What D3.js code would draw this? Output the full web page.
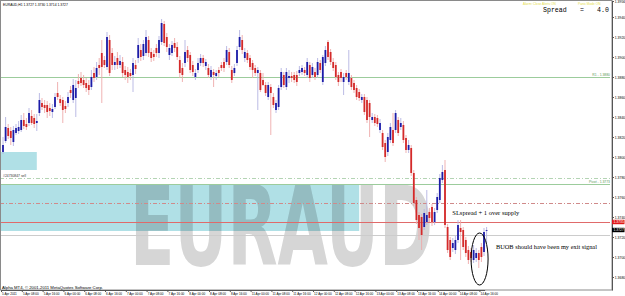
<!DOCTYPE html>
<html>
<head>
<meta charset="utf-8">
<script src="https://cdn.jsdelivr.net/npm/d3@7"></script>
<style>
  html, body { margin: 0; padding: 0; background: #fff; }
  svg { display: block; }
</style>
</head>
<body>
<div id="chart"></div>
<script>
// EURAUD H1 candles (one row = 10 bars)
var openP = [
  1.3805,1.3816,1.3829,1.3826,1.3815,1.3824,1.3826,1.3827,1.3837,1.3833,
  1.3834,1.3841,1.3839,1.3834,1.3844,1.3854,1.3852,1.3852,1.3849,1.3845,
  1.3850,1.3864,1.3858,1.3857,1.3851,1.3854,1.3867,1.3857,1.3859,1.3876,
  1.3879,1.3877,1.3874,1.3872,1.3870,1.3884,1.3880,1.3892,1.3904,1.3897,
  1.3890,1.3917,1.3904,1.3892,1.3899,1.3892,1.3895,1.3887,1.3885,1.3884,
  1.3882,1.3892,1.3899,1.3907,1.3901,1.3904,1.3917,1.3905,1.3903,1.3909,
  1.3904,1.3915,1.3933,1.3920,1.3902,1.3904,1.3914,1.3910,1.3897,1.3889,
  1.3894,1.3907,1.3902,1.3892,1.3880,1.3887,1.3894,1.3899,1.3891,1.3889,
  1.3880,1.3885,1.3881,1.3887,1.3892,1.3895,1.3895,1.3905,1.3887,1.3884,
  1.3894,1.3910,1.3917,1.3899,1.3904,1.3899,1.3894,1.3889,1.3884,1.3884,
  1.3877,1.3872,1.3860,1.3870,1.3860,1.3847,1.3850,1.3870,1.3882,1.3870,
  1.3879,1.3881,1.3882,1.3882,1.3884,1.3885,1.3887,1.3882,1.3892,1.3882,
  1.3885,1.3882,1.3894,1.3875,1.3894,1.3915,1.3905,1.3895,1.3892,1.3882,
  1.3885,1.3875,1.3884,1.3875,1.3879,1.3874,1.3869,1.3865,1.3857,1.3860,
  1.3857,1.3854,1.3837,1.3840,1.3839,1.3827,1.3824,1.3814,1.3805,1.3817,
  1.3827,1.3827,1.3837,1.3830,1.3832,1.3819,1.3807,1.3809,1.3784,1.3757,
  1.3742,1.3740,1.3730,1.3735,1.3745,1.3750,1.3735,1.3747,1.3757,1.3777,
  1.3787,1.3730,1.3717,1.3709,1.3707,1.3717,1.3729,1.3727,1.3717,1.3707,
  1.3705,1.3697,1.3699,1.3704,1.3710,1.3705,1.3727
];
var highP = [
  1.3820,1.3840,1.3833,1.3830,1.3831,1.3833,1.3836,1.3842,1.3844,1.3839,
  1.3849,1.3847,1.3843,1.3843,1.3864,1.3859,1.3857,1.3856,1.3854,1.3853,
  1.3864,1.3875,1.3862,1.3860,1.3856,1.3865,1.3871,1.3878,1.3877,1.3883,
  1.3885,1.3882,1.3879,1.3877,1.3887,1.3890,1.3895,1.3899,1.3917,1.3901,
  1.3925,1.3922,1.3909,1.3901,1.3905,1.3902,1.3900,1.3891,1.3890,1.3888,
  1.3899,1.3897,1.3919,1.3913,1.3917,1.3927,1.3921,1.3909,1.3907,1.3913,
  1.3921,1.3938,1.3936,1.3924,1.3913,1.3916,1.3919,1.3915,1.3901,1.3894,
  1.3917,1.3911,1.3905,1.3896,1.3888,1.3899,1.3903,1.3902,1.3898,1.3893,
  1.3891,1.3888,1.3887,1.3890,1.3895,1.3899,1.3911,1.3909,1.3891,1.3893,
  1.3911,1.3927,1.3922,1.3909,1.3907,1.3902,1.3897,1.3892,1.3890,1.3887,
  1.3884,1.3875,1.3875,1.3873,1.3864,1.3857,1.3872,1.3889,1.3885,1.3889,
  1.3887,1.3885,1.3885,1.3886,1.3891,1.3892,1.3890,1.3899,1.3895,1.3894,
  1.3889,1.3899,1.3897,1.3902,1.3911,1.3917,1.3908,1.3899,1.3895,1.3885,
  1.3888,1.3884,1.3887,1.3907,1.3882,1.3877,1.3872,1.3868,1.3863,1.3863,
  1.3860,1.3857,1.3844,1.3843,1.3842,1.3838,1.3827,1.3817,1.3824,1.3834,
  1.3844,1.3847,1.3840,1.3839,1.3836,1.3822,1.3817,1.3812,1.3787,1.3760,
  1.3745,1.3743,1.3748,1.3767,1.3749,1.3753,1.3749,1.3764,1.3783,1.3792,
  1.3797,1.3733,1.3720,1.3719,1.3721,1.3737,1.3737,1.3730,1.3720,1.3711,
  1.3709,1.3712,1.3709,1.3707,1.3714,1.3729,1.3730
];
var lowP = [
  1.3803,1.3814,1.3818,1.3812,1.3811,1.3822,1.3823,1.3825,1.3828,1.3827,
  1.3831,1.3832,1.3829,1.3826,1.3841,1.3847,1.3844,1.3839,1.3841,1.3839,
  1.3848,1.3857,1.3851,1.3834,1.3844,1.3850,1.3859,1.3854,1.3840,1.3869,
  1.3871,1.3869,1.3865,1.3862,1.3867,1.3875,1.3877,1.3882,1.3854,1.3889,
  1.3887,1.3881,1.3887,1.3887,1.3888,1.3889,1.3880,1.3877,1.3874,1.3877,
  1.3865,1.3883,1.3894,1.3896,1.3897,1.3901,1.3900,1.3895,1.3896,1.3900,
  1.3899,1.3912,1.3911,1.3905,1.3897,1.3901,1.3905,1.3897,1.3879,1.3875,
  1.3890,1.3895,1.3884,1.3881,1.3877,1.3884,1.3891,1.3890,1.3887,1.3879,
  1.3877,1.3870,1.3877,1.3880,1.3886,1.3885,1.3892,1.3889,1.3874,1.3881,
  1.3891,1.3907,1.3903,1.3895,1.3894,1.3887,1.3879,1.3881,1.3847,1.3865,
  1.3871,1.3861,1.3857,1.3822,1.3849,1.3844,1.3847,1.3867,1.3869,1.3867,
  1.3874,1.3875,1.3874,1.3871,1.3881,1.3882,1.3881,1.3879,1.3875,1.3879,
  1.3877,1.3879,1.3884,1.3872,1.3891,1.3897,1.3892,1.3886,1.3877,1.3871,
  1.3875,1.3862,1.3877,1.3872,1.3867,1.3864,1.3857,1.3856,1.3854,1.3842,
  1.3834,1.3820,1.3834,1.3831,1.3830,1.3824,1.3807,1.3795,1.3801,1.3814,
  1.3811,1.3824,1.3821,1.3827,1.3814,1.3804,1.3804,1.3781,1.3751,1.3733,
  1.3717,1.3707,1.3727,1.3732,1.3735,1.3731,1.3732,1.3744,1.3754,1.3774,
  1.3729,1.3704,1.3697,1.3705,1.3703,1.3714,1.3697,1.3707,1.3700,1.3693,
  1.3695,1.3694,1.3695,1.3689,1.3695,1.3701,1.3714
];
var closeP = [
  1.3812,1.3830,1.3821,1.3819,1.3827,1.3829,1.3830,1.3837,1.3831,1.3830,
  1.3844,1.3834,1.3833,1.3836,1.3857,1.3850,1.3849,1.3845,1.3846,1.3848,
  1.3860,1.3860,1.3854,1.3847,1.3848,1.3860,1.3864,1.3872,1.3869,1.3873,
  1.3874,1.3872,1.3869,1.3867,1.3880,1.3879,1.3889,1.3889,1.3890,1.3892,
  1.3920,1.3884,1.3892,1.3895,1.3892,1.3896,1.3884,1.3882,1.3880,1.3881,
  1.3894,1.3888,1.3912,1.3900,1.3913,1.3920,1.3904,1.3899,1.3900,1.3904,
  1.3917,1.3934,1.3914,1.3910,1.3909,1.3912,1.3909,1.3900,1.3884,1.3882,
  1.3905,1.3899,1.3887,1.3885,1.3884,1.3894,1.3899,1.3894,1.3895,1.3882,
  1.3887,1.3882,1.3884,1.3884,1.3889,1.3889,1.3907,1.3892,1.3877,1.3889,
  1.3907,1.3920,1.3907,1.3905,1.3897,1.3890,1.3887,1.3884,1.3887,1.3867,
  1.3872,1.3864,1.3872,1.3864,1.3852,1.3854,1.3869,1.3885,1.3872,1.3885,
  1.3881,1.3879,1.3877,1.3875,1.3887,1.3889,1.3884,1.3895,1.3879,1.3890,
  1.3880,1.3895,1.3887,1.3900,1.3907,1.3900,1.3895,1.3889,1.3880,1.3875,
  1.3879,1.3880,1.3880,1.3884,1.3870,1.3867,1.3860,1.3859,1.3860,1.3845,
  1.3837,1.3840,1.3840,1.3834,1.3833,1.3834,1.3810,1.3800,1.3820,1.3830,
  1.3814,1.3844,1.3824,1.3834,1.3817,1.3807,1.3812,1.3784,1.3754,1.3737,
  1.3729,1.3722,1.3744,1.3742,1.3739,1.3735,1.3745,1.3760,1.3779,1.3785,
  1.3732,1.3707,1.3700,1.3714,1.3717,1.3732,1.3725,1.3710,1.3704,1.3697,
  1.3699,1.3707,1.3704,1.3697,1.3700,1.3725,1.3727
];

// time axis labels, one every 8 bars
var timeLabels = [
  "5 Apr 2011", "5 Apr 08:00", "5 Apr 16:00", "6 Apr 00:00", "6 Apr 08:00", "6 Apr 16:00",
  "7 Apr 00:00", "7 Apr 08:00", "7 Apr 16:00", "8 Apr 00:00", "8 Apr 08:00", "8 Apr 16:00",
  "11 Apr 00:00", "11 Apr 08:00", "11 Apr 16:00", "12 Apr 00:00", "12 Apr 08:00", "12 Apr 16:00",
  "13 Apr 00:00", "13 Apr 08:00", "13 Apr 16:00", "14 Apr 00:00", "14 Apr 08:00", "14 Apr 16:00"
];
var labelEvery = 8;
var priceTicks = [1.3956, 1.3940, 1.3920, 1.3900, 1.3880, 1.3860, 1.3840, 1.3820,
                  1.3800, 1.3780, 1.3760, 1.3740, 1.3720, 1.3700, 1.3680];

// objects drawn on the chart
var pivotNames = ["R1", "Pivot"];
var pivotPrices = [1.3880, 1.3773];
var orderLabel = "#24730847 sell";
var orderPrice = 1.3779;
var supplyLinePrice = 1.3754;
var slPrice = 1.3735;
var bidPrice = 1.3727;
var greyLinePrice = 1.3722;
var zoneTops = [1.3805, 1.3773];
var zoneBottoms = [1.3787, 1.3726];
var zoneEndBars = [13, 137];
var spreadValue = 4.0;
var noteTexts = ["SLspread + 1 over supply", "BUOB should have been my exit signal"];
var noteBars = [172.8, 189.6];
var notePrices = [1.3742, 1.3708];
var circleBar = 183.3, circlePrice = 1.3698;

var W = 625, H = 296;
var plotRight = 612, plotBottom = 290;

var svg = d3.select("#chart").append("svg")
  .attr("width", W)
  .attr("height", H)
  .style("font-family", "'Liberation Sans', Arial, sans-serif");

svg.append("rect").attr("width", W).attr("height", H).attr("fill", "#fff");

svg.append("clipPath").attr("id", "plotClip")
  .append("rect").attr("x", 0).attr("y", 0).attr("width", plotRight).attr("height", plotBottom);

var x = d3.scaleLinear().domain([0, openP.length - 1]).range([3, 486.6]);
var y = d3.scaleLinear().domain([1.3667, 1.3956]).range([plotBottom, 1]);

var bars = openP.map(function(o, i) {
  return {i: i, o: o, h: highP[i], l: lowP[i], c: closeP[i]};
});

var g = svg.append("g").attr("clip-path", "url(#plotClip)");

// supply zones
g.selectAll("rect.zone")
  .data(zoneTops)
  .enter().append("rect")
  .attr("class", "zone")
  .attr("x", 0)
  .attr("y", function(d) { return y(d); })
  .attr("width", function(d, i) { return x(zoneEndBars[i]); })
  .attr("height", function(d, i) { return y(zoneBottoms[i]) - y(d); })
  .attr("fill", "#b0e0e6");

// big symbol watermark, squeezed with a transform so its box matches what is drawn
var mark = g.append("text")
  .attr("x", 0)
  .attr("y", 0)
  .attr("font-family", "'DejaVu Sans', sans-serif")
  .attr("font-weight", "bold")
  .attr("font-size", 111)
  .attr("fill", "#d6d6d6")
  .style("mix-blend-mode", "multiply")
  .text("EURAUD");
var markW = mark.node().getComputedTextLength() || 520;
mark.attr("transform", "translate(130,265) scale(" + (303 / markW) + ",1)");

// horizontal lines
function hline(price, color, dash, width) {
  g.append("line")
    .attr("x1", 0).attr("x2", plotRight - 2)
    .attr("y1", Math.round(y(price)) + 0.5).attr("y2", Math.round(y(price)) + 0.5)
    .attr("stroke", color)
    .attr("stroke-width", width || 1)
    .attr("stroke-dasharray", dash || null);
}
pivotPrices.forEach(function(p) { hline(p, "#9ccc9c"); });
hline(orderPrice, "#b4d4b4", "4,2,1,2");
hline(supplyLinePrice, "#d08a8a", "4,2,1,2");
hline(slPrice, "#e06a6a");
hline(greyLinePrice, "#cccccc");

pivotNames.forEach(function(n, i) {
  svg.append("text")
    .attr("x", plotRight - 2)
    .attr("y", y(pivotPrices[i]) - 1.2)
    .attr("text-anchor", "end")
    .attr("font-size", 3.4)
    .attr("fill", "#5a9a5a")
    .text(n + " - " + d3.format(".4f")(pivotPrices[i]));
});

svg.append("text")
  .attr("x", 3)
  .attr("y", y(orderPrice) - 1.5)
  .attr("font-size", 3.4)
  .attr("fill", "#333")
  .text(orderLabel);

// candles
g.selectAll("line.wick")
  .data(bars)
  .enter().append("line")
  .attr("class", "wick")
  .attr("x1", function(d) { return x(d.i); })
  .attr("x2", function(d) { return x(d.i); })
  .attr("y1", function(d) { return y(d.h); })
  .attr("y2", function(d) { return y(d.l); })
  .attr("stroke", function(d) { return d.c >= d.o ? "#b4b4e2" : "#eeaaaa"; })
  .attr("stroke-width", 0.9);

g.selectAll("rect.body")
  .data(bars)
  .enter().append("rect")
  .attr("class", "body")
  .attr("x", function(d) { return x(d.i) - 0.9; })
  .attr("width", 1.8)
  .attr("y", function(d) { return y(Math.max(d.o, d.c)); })
  .attr("height", function(d) { return Math.max(0.8, Math.abs(y(d.o) - y(d.c))); })
  .attr("fill", function(d) { return d.c >= d.o ? "#1c1ca8" : "#d42a2a"; });

// notes
noteTexts.forEach(function(t, i) {
  svg.append("text")
    .attr("x", x(noteBars[i]))
    .attr("y", y(notePrices[i]))
    .attr("font-family", "'Liberation Serif', 'Times New Roman', serif")
    .attr("font-size", 6.6)
    .attr("textLength", i === 0 ? 67 : 101)
    .attr("lengthAdjust", "spacingAndGlyphs")
    .attr("fill", "#000")
    .text(t);
});

svg.append("ellipse")
  .attr("cx", x(circleBar))
  .attr("cy", y(circlePrice))
  .attr("rx", 8.5)
  .attr("ry", 26)
  .attr("fill", "none")
  .attr("stroke", "#000")
  .attr("stroke-width", 1);

// frame
svg.append("rect")
  .attr("x", 0.5).attr("y", 0.5)
  .attr("width", plotRight - 0.5).attr("height", plotBottom - 0.5)
  .attr("fill", "none")
  .attr("stroke", "#8a8a8a")
  .attr("stroke-width", 1);

// price axis
var yAxis = d3.axisRight(y)
  .tickValues(priceTicks)
  .tickSize(2)
  .tickSizeOuter(0)
  .tickPadding(0.8)
  .tickFormat(d3.format(".4f"));

var ya = svg.append("g")
  .attr("transform", "translate(" + plotRight + ",0)")
  .call(yAxis);
ya.select(".domain").attr("stroke", "#555");
ya.selectAll(".tick line").attr("stroke", "#555");
ya.selectAll("text").attr("font-size", 3.4).attr("fill", "#000").attr("font-family", null);

// time axis
var xAxis = d3.axisBottom(x)
  .tickValues(timeLabels.map(function(t, i) { return i * labelEvery; }))
  .tickSize(2)
  .tickSizeOuter(0)
  .tickPadding(0.5)
  .tickFormat(function(d, i) { return timeLabels[i]; });

var xa = svg.append("g")
  .attr("transform", "translate(-2," + plotBottom + ")")
  .call(xAxis);
xa.select(".domain").attr("stroke", "#555");
xa.selectAll(".tick line").attr("stroke", "#555");
xa.selectAll("text")
  .attr("text-anchor", "start")
  .attr("x", 0.6)
  .attr("font-size", 3.1)
  .attr("fill", "#000")
  .attr("font-family", null);

// price tags on the axis
[{p: slPrice, fill: "#e01818"}, {p: bidPrice, fill: "#000"}].forEach(function(t) {
  svg.append("rect")
    .attr("x", plotRight).attr("y", y(t.p) - 2.2)
    .attr("width", 12.5).attr("height", 4.4)
    .attr("fill", t.fill);
  svg.append("text")
    .attr("x", plotRight + 1.5).attr("y", y(t.p))
    .attr("dy", "0.35em")
    .attr("font-size", 3.4)
    .attr("fill", "#fff")
    .text(d3.format(".4f")(t.p));
});

// header texts
var last = bars[bars.length - 1];
svg.append("text")
  .attr("x", 3).attr("y", 6)
  .attr("font-size", 3.4)
  .attr("fill", "#000")
  .text("EURAUD,H1  " + [last.o, last.h, last.l, last.c].map(d3.format(".4f")).join(" "));

svg.append("text")
  .attr("x", 523).attr("y", 5)
  .attr("font-size", 3.2)
  .attr("fill", "#e6e04a")
  .text("Alarm: Close Alerts ON");
svg.append("text")
  .attr("x", 578).attr("y", 5)
  .attr("font-size", 3.2)
  .attr("fill", "#e6e04a")
  .text("Panic Mode ON");

var mono = "'Liberation Mono', 'DejaVu Sans Mono', monospace";
svg.append("text").attr("x", 543).attr("y", 11.5).attr("font-family", mono)
  .attr("font-size", 6.6).attr("fill", "#000").text("Spread");
svg.append("text").attr("x", 580).attr("y", 11.5).attr("font-family", mono)
  .attr("font-size", 6.6).attr("fill", "#000").text("=");
svg.append("text").attr("x", 597).attr("y", 11.5).attr("font-family", mono)
  .attr("font-size", 6.6).attr("fill", "#000").text(d3.format(".1f")(spreadValue));

svg.append("text")
  .attr("x", 2).attr("y", 288.5)
  .attr("font-size", 3.4)
  .attr("textLength", 101)
  .attr("lengthAdjust", "spacingAndGlyphs")
  .attr("fill", "#000")
  .text("Alpha MT4, \u00a9 2001-2011 MetaQuotes Software Corp.");
</script>
</body>
</html>
